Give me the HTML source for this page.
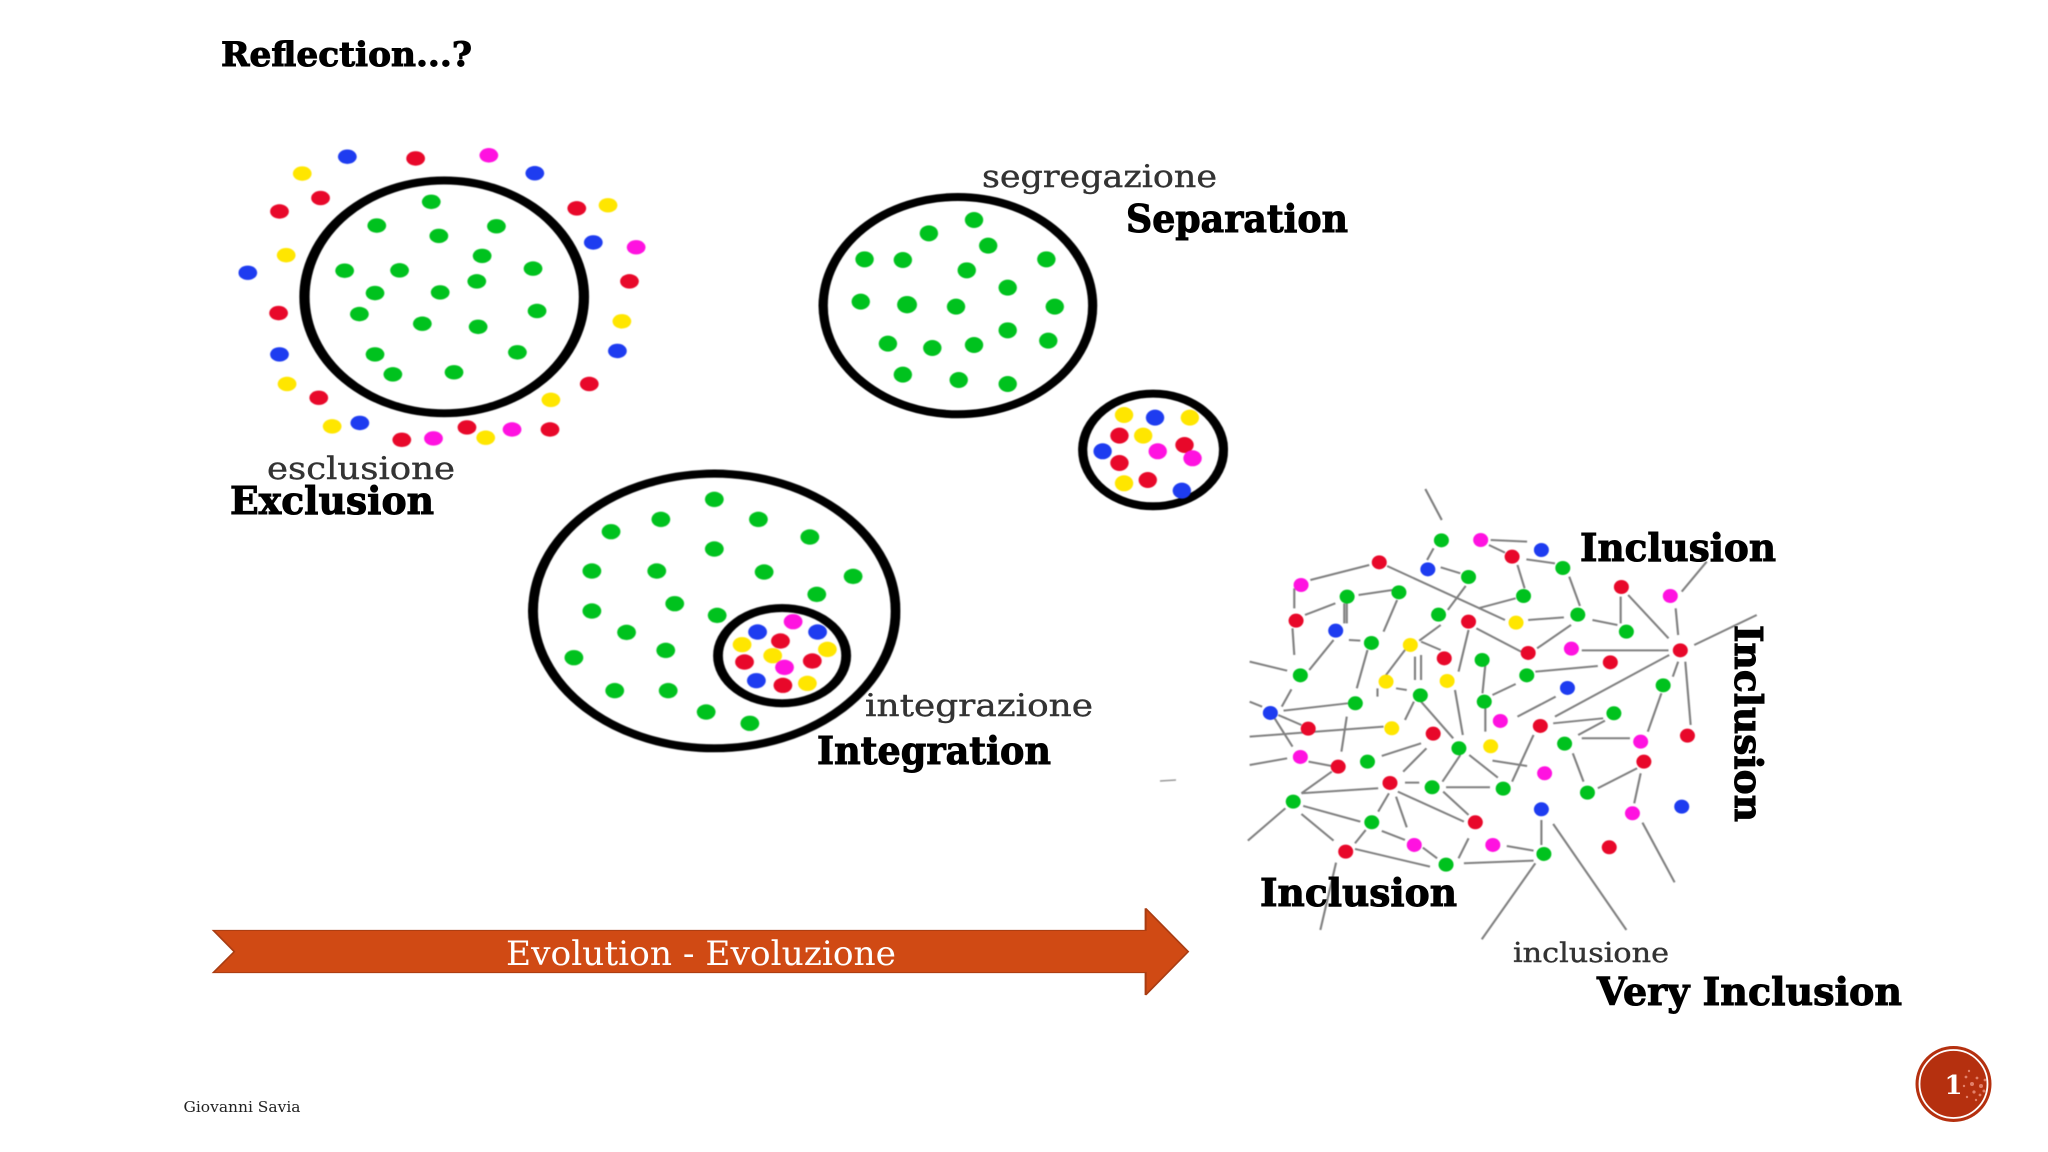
<!DOCTYPE html>
<html>
<head>
<meta charset="utf-8">
<style>
html,body{margin:0;padding:0;background:#fff;width:2048px;height:1152px;overflow:hidden}
svg{display:block}
.g{fill:#00c21e}.r{fill:#e8082a}.b{fill:#1e3cf0}.y{fill:#ffe600}.m{fill:#ff12e0}
.ring{fill:none;stroke:#000}
.soft{filter:blur(.5px)}
.h{font-family:"DejaVu Serif","Liberation Serif",serif;font-weight:700;font-size:38px;fill:#000;stroke:#000;stroke-width:1px}
.s{font-family:"DejaVu Serif","Liberation Serif",serif;font-weight:400;font-size:31px;fill:#333;stroke:#333;stroke-width:.4px}
</style>
</head>
<body>
<svg width="2048" height="1152" viewBox="0 0 2048 1152" xmlns="http://www.w3.org/2000/svg">
<rect width="2048" height="1152" fill="#fff"/>

<g class="soft">
<!-- Exclusion -->
<g transform="translate(200,0) scale(0.4464,0.3444)">
<ellipse class="ring" cx="547" cy="862" rx="313" ry="338" stroke-width="23"/>
<g id="d1">
<circle class="b" cx="330" cy="455" r="21"/><circle class="r" cx="483" cy="460" r="21"/><circle class="m" cx="647" cy="451" r="21"/><circle class="b" cx="750" cy="503" r="21"/><circle class="y" cx="229" cy="504" r="21"/><circle class="r" cx="270" cy="575" r="21"/><circle class="r" cx="178" cy="614" r="21"/><circle class="r" cx="844" cy="605" r="21"/><circle class="y" cx="914" cy="596" r="21"/><circle class="b" cx="881" cy="704" r="21"/><circle class="m" cx="977" cy="718" r="21"/><circle class="y" cx="193" cy="741" r="21"/><circle class="b" cx="107" cy="792" r="21"/><circle class="r" cx="962" cy="817" r="21"/><circle class="r" cx="176" cy="909" r="21"/><circle class="y" cx="945" cy="933" r="21"/><circle class="b" cx="178" cy="1029" r="21"/><circle class="b" cx="935" cy="1019" r="21"/><circle class="y" cx="195" cy="1115" r="21"/><circle class="r" cx="872" cy="1115" r="21"/><circle class="r" cx="266" cy="1155" r="21"/><circle class="y" cx="786" cy="1161" r="21"/><circle class="y" cx="296" cy="1238" r="21"/><circle class="b" cx="358" cy="1228" r="21"/><circle class="r" cx="452" cy="1277" r="21"/><circle class="m" cx="523" cy="1273" r="21"/><circle class="r" cx="598" cy="1241" r="21"/><circle class="y" cx="640" cy="1271" r="21"/><circle class="m" cx="699" cy="1247" r="21"/><circle class="r" cx="784" cy="1247" r="21"/>
<circle class="g" cx="518" cy="586" r="21"/><circle class="g" cx="396" cy="655" r="21"/><circle class="g" cx="664" cy="657" r="21"/><circle class="g" cx="535" cy="685" r="21"/><circle class="g" cx="632" cy="743" r="21"/><circle class="g" cx="324" cy="786" r="21"/><circle class="g" cx="447" cy="785" r="21"/><circle class="g" cx="746" cy="780" r="21"/><circle class="g" cx="620" cy="817" r="21"/><circle class="g" cx="392" cy="851" r="21"/><circle class="g" cx="538" cy="849" r="21"/><circle class="g" cx="755" cy="903" r="21"/><circle class="g" cx="357" cy="912" r="21"/><circle class="g" cx="498" cy="940" r="21"/><circle class="g" cx="623" cy="949" r="21"/><circle class="g" cx="392" cy="1029" r="21"/><circle class="g" cx="711" cy="1023" r="21"/><circle class="g" cx="432" cy="1087" r="21"/><circle class="g" cx="569" cy="1081" r="21"/>
</g>
</g>

<!-- Separation -->
<g transform="translate(780,140) scale(0.3827,0.3333)">
<ellipse class="ring" cx="465" cy="497" rx="352" ry="326" stroke-width="24"/>
<ellipse class="ring" cx="975" cy="930" rx="184" ry="169" stroke-width="24"/>
<circle class="g" cx="507" cy="240" r="24"/><circle class="g" cx="389" cy="280" r="24"/><circle class="g" cx="544" cy="317" r="24"/><circle class="g" cx="221" cy="358" r="24"/><circle class="g" cx="321" cy="360" r="24"/><circle class="g" cx="696" cy="358" r="24"/><circle class="g" cx="488" cy="391" r="24"/><circle class="g" cx="595" cy="443" r="24"/><circle class="g" cx="211" cy="485" r="24"/><circle class="g" cx="332" cy="494" r="26"/><circle class="g" cx="460" cy="500" r="24"/><circle class="g" cx="718" cy="500" r="24"/><circle class="g" cx="595" cy="571" r="24"/><circle class="g" cx="701" cy="602" r="24"/><circle class="g" cx="282" cy="611" r="24"/><circle class="g" cx="398" cy="624" r="24"/><circle class="g" cx="507" cy="615" r="24"/><circle class="g" cx="321" cy="704" r="24"/><circle class="g" cx="467" cy="720" r="24"/><circle class="g" cx="595" cy="732" r="24"/>
<circle class="y" cx="899" cy="825" r="24"/><circle class="b" cx="980" cy="833" r="24"/><circle class="y" cx="1071" cy="833" r="24"/><circle class="r" cx="887" cy="887" r="24"/><circle class="y" cx="949" cy="887" r="24"/><circle class="r" cx="1057" cy="915" r="24"/><circle class="b" cx="843" cy="934" r="24"/><circle class="m" cx="987" cy="934" r="24"/><circle class="m" cx="1078" cy="955" r="24"/><circle class="r" cx="887" cy="969" r="24"/><circle class="y" cx="899" cy="1030" r="24"/><circle class="r" cx="961" cy="1020" r="24"/><circle class="b" cx="1050" cy="1052" r="24"/>
</g>

<!-- Integration -->
<g transform="translate(500,450) scale(0.4082,0.3333)">
<ellipse class="ring" cx="525" cy="483" rx="444" ry="412" stroke-width="24"/>
<ellipse class="ring" cx="691" cy="617" rx="157" ry="143" stroke-width="24"/>
<circle class="g" cx="525" cy="148" r="23"/><circle class="g" cx="394" cy="208" r="23"/><circle class="g" cx="633" cy="208" r="23"/><circle class="g" cx="272" cy="245" r="23"/><circle class="g" cx="759" cy="261" r="23"/><circle class="g" cx="525" cy="297" r="23"/><circle class="g" cx="225" cy="363" r="23"/><circle class="g" cx="384" cy="363" r="23"/><circle class="g" cx="647" cy="366" r="23"/><circle class="g" cx="865" cy="379" r="23"/><circle class="g" cx="776" cy="433" r="23"/><circle class="g" cx="225" cy="483" r="23"/><circle class="g" cx="428" cy="461" r="23"/><circle class="g" cx="532" cy="496" r="23"/><circle class="g" cx="310" cy="547" r="23"/><circle class="g" cx="406" cy="601" r="23"/><circle class="g" cx="181" cy="623" r="23"/><circle class="g" cx="281" cy="722" r="23"/><circle class="g" cx="412" cy="722" r="23"/><circle class="g" cx="505" cy="786" r="23"/><circle class="g" cx="612" cy="820" r="23"/>
<circle class="m" cx="718" cy="515" r="23"/><circle class="b" cx="631" cy="546" r="23"/><circle class="b" cx="778" cy="546" r="23"/><circle class="r" cx="687" cy="573" r="23"/><circle class="y" cx="593" cy="584" r="23"/><circle class="y" cx="802" cy="598" r="23"/><circle class="y" cx="668" cy="617" r="23"/><circle class="r" cx="599" cy="636" r="23"/><circle class="r" cx="765" cy="633" r="23"/><circle class="m" cx="697" cy="652" r="23"/><circle class="b" cx="628" cy="692" r="23"/><circle class="r" cx="693" cy="706" r="23"/><circle class="y" cx="753" cy="700" r="23"/>
</g>

<!-- Inclusion network -->
<g transform="translate(1230,480) scale(0.3571,0.3333)">
<path fill="none" stroke="#808080" stroke-width="6" d="M547 27L593 120M570 205L552 240M730 180L832 185M725 195L770 218M590 262L645 280M660 318L610 390M830 238L910 250M805 255L825 325M950 290L980 378M440 258L770 420M695 385L800 355M390 255L225 300M180 325L180 385M210 405L295 370M360 345L455 330M320 370L320 430M327 370L327 430M468 360L430 455M175 445L180 525M290 480L222 570M333 480L365 482M385 510L355 625M590 435L530 482M535 485L590 510M490 510L430 595M518 530L518 600M535 525L535 600M413 625L413 650M465 625L495 630M668 450L640 575M690 445L815 515M860 505L955 435M835 420L935 412M1015 420L1085 435M1094 350L1094 430M1115 345L1228 475M1248 385L1255 465M1265 335L1335 245M985 511L1228 511M855 575L1030 558M1300 495L1475 405M1230 525L910 710M1255 545L1240 590M1275 545L1290 735M1208 640L1170 755M715 555L707 640M735 645L800 612M805 710L912 650M905 730L1045 715M975 765L1050 722M985 775L1120 775M715 685L715 755M630 630L652 765M535 665L625 775M515 665L490 720M172 628L145 680M55 545L160 572M55 665L90 680M150 692L330 670M135 705L200 735M125 715L175 800M55 770L430 740M327 710L312 815M55 855L160 835M220 845L285 858M425 828L535 790M550 805L485 875M285 875L200 940M200 940L415 925M490 908L530 908M645 825L595 905M670 825L750 893M735 842L832 858M850 765L790 905M605 922L728 922M960 820L990 905M1030 925L1140 865M1150 880L1132 970M155 985L50 1082M205 978L365 1025M200 1002L290 1082M445 940L415 995M465 950L495 1042M470 935L655 1025M597 935L668 1005M380 1050L350 1090M425 1053L490 1080M540 1103L580 1135M668 1075L640 1135M350 1107L560 1160M655 1150L850 1142M775 1098L850 1112M872 1020L872 1095M855 1150L705 1378M905 1032L1110 1350M1155 1028L1245 1207M297 1148L253 1350"/>
<g>
<circle class="g" cx="592" cy="181" r="21"/><circle class="m" cx="702" cy="180" r="21"/><circle class="b" cx="872" cy="210" r="21"/><circle class="r" cx="790" cy="230" r="21"/><circle class="g" cx="932" cy="264" r="21"/><circle class="r" cx="418" cy="247" r="21"/><circle class="b" cx="554" cy="268" r="21"/><circle class="g" cx="668" cy="291" r="21"/><circle class="m" cx="199" cy="315" r="21"/><circle class="g" cx="328" cy="350" r="21"/><circle class="g" cx="473" cy="337" r="21"/><circle class="g" cx="822" cy="348" r="21"/><circle class="r" cx="1096" cy="321" r="21"/><circle class="m" cx="1233" cy="348" r="21"/><circle class="g" cx="584" cy="404" r="21"/><circle class="g" cx="974" cy="404" r="21"/><circle class="r" cx="185" cy="422" r="21"/><circle class="r" cx="668" cy="425" r="21"/><circle class="y" cx="801" cy="428" r="21"/><circle class="b" cx="296" cy="452" r="21"/><circle class="g" cx="1110" cy="455" r="21"/><circle class="g" cx="396" cy="489" r="21"/><circle class="y" cx="505" cy="495" r="21"/><circle class="m" cx="956" cy="506" r="21"/><circle class="r" cx="1261" cy="511" r="21"/><circle class="r" cx="835" cy="519" r="21"/><circle class="r" cx="600" cy="535" r="21"/><circle class="g" cx="706" cy="540" r="21"/><circle class="r" cx="1065" cy="547" r="21"/><circle class="g" cx="197" cy="586" r="21"/><circle class="g" cx="831" cy="586" r="21"/><circle class="y" cx="437" cy="605" r="21"/><circle class="y" cx="608" cy="603" r="21"/><circle class="g" cx="1213" cy="616" r="21"/><circle class="b" cx="945" cy="624" r="21"/><circle class="g" cx="533" cy="646" r="21"/><circle class="g" cx="351" cy="670" r="21"/><circle class="g" cx="712" cy="665" r="21"/><circle class="b" cx="113" cy="699" r="21"/><circle class="g" cx="1075" cy="700" r="21"/><circle class="m" cx="757" cy="723" r="21"/><circle class="r" cx="869" cy="738" r="21"/><circle class="r" cx="219" cy="746" r="21"/><circle class="y" cx="453" cy="745" r="21"/><circle class="r" cx="569" cy="761" r="21"/><circle class="g" cx="937" cy="791" r="21"/><circle class="m" cx="1150" cy="785" r="21"/><circle class="r" cx="1281" cy="767" r="21"/><circle class="y" cx="730" cy="799" r="21"/><circle class="g" cx="641" cy="805" r="21"/><circle class="m" cx="197" cy="831" r="21"/><circle class="r" cx="303" cy="860" r="21"/><circle class="g" cx="385" cy="845" r="21"/><circle class="r" cx="1159" cy="845" r="21"/><circle class="m" cx="881" cy="880" r="21"/><circle class="r" cx="448" cy="909" r="21"/><circle class="g" cx="566" cy="922" r="21"/><circle class="g" cx="765" cy="926" r="21"/><circle class="g" cx="1001" cy="938" r="21"/><circle class="g" cx="177" cy="965" r="21"/><circle class="b" cx="872" cy="988" r="21"/><circle class="m" cx="1127" cy="1000" r="21"/><circle class="b" cx="1265" cy="980" r="21"/><circle class="g" cx="397" cy="1027" r="21"/><circle class="r" cx="687" cy="1027" r="21"/><circle class="m" cx="516" cy="1095" r="21"/><circle class="m" cx="736" cy="1095" r="21"/><circle class="r" cx="324" cy="1115" r="21"/><circle class="g" cx="879" cy="1122" r="21"/><circle class="g" cx="605" cy="1154" r="21"/><circle class="r" cx="1062" cy="1102" r="21"/>
</g>
</g>
<path d="M1160 781L1176 780" stroke="#999" stroke-width="1.5"/>
</g>

<!-- Arrow -->
<g transform="translate(170,890) scale(0.6761,0.3333)">
<polygon points="64,121 1443,121 1443,55 1506,185 1443,315 1443,248 64,248 95,185" fill="#d04a14" stroke="#a83c12" stroke-width="3"/>
</g>

<!-- Labels -->
<g transform="translate(0,-1)">
<text x="506" y="966" font-family="'DejaVu Serif','Liberation Serif',serif" font-size="34" fill="#fff" textLength="390" lengthAdjust="spacingAndGlyphs">Evolution - Evoluzione</text>
<text class="h" x="221" y="67" style="font-size:34px" textLength="251" lengthAdjust="spacingAndGlyphs">Reflection...?</text>
<text class="s" x="267" y="480" textLength="188" lengthAdjust="spacingAndGlyphs">esclusione</text>
<text class="h" x="230" y="515" textLength="204" lengthAdjust="spacingAndGlyphs">Exclusion</text>
<text class="s" x="982" y="188" textLength="235" lengthAdjust="spacingAndGlyphs">segregazione</text>
<text class="h" x="1126" y="233" textLength="222" lengthAdjust="spacingAndGlyphs">Separation</text>
<text class="s" x="865" y="717" textLength="228" lengthAdjust="spacingAndGlyphs">integrazione</text>
<text class="h" x="817" y="765" textLength="234" lengthAdjust="spacingAndGlyphs">Integration</text>
<text class="h" x="1580" y="562" textLength="196" lengthAdjust="spacingAndGlyphs">Inclusion</text>
<text class="h" x="1260" y="907" textLength="197" lengthAdjust="spacingAndGlyphs">Inclusion</text>
<text class="s" x="1513" y="963" style="font-size:27px" textLength="156" lengthAdjust="spacingAndGlyphs">inclusione</text>
<text class="h" x="1597" y="1006" textLength="305" lengthAdjust="spacingAndGlyphs">Very Inclusion</text>
<text x="183.5" y="1113" font-family="'DejaVu Serif','Liberation Serif',serif" font-size="15" fill="#222" textLength="117" lengthAdjust="spacingAndGlyphs">Giovanni Savia</text>
</g>
<text class="h" transform="translate(1735,625) rotate(90)" x="0" y="0" textLength="197" lengthAdjust="spacingAndGlyphs">Inclusion</text>

<!-- Page badge -->
<circle cx="1953.5" cy="1084" r="38" fill="#b5300f"/>
<g fill="#e2806a">
<circle cx="1966" cy="1077" r="1.4"/><circle cx="1972" cy="1084" r="2"/><circle cx="1977" cy="1078" r="1.4"/><circle cx="1981" cy="1086" r="2"/><circle cx="1974" cy="1092" r="1.6"/><circle cx="1969" cy="1071" r="1.2"/><circle cx="1980" cy="1095" r="1.4"/><circle cx="1985" cy="1080" r="1.4"/><circle cx="1967" cy="1097" r="1.2"/><circle cx="1976" cy="1100" r="1.2"/><circle cx="1984" cy="1091" r="1.5"/><circle cx="1964" cy="1086" r="1.2"/>
</g>
<circle cx="1953.5" cy="1084" r="34" fill="none" stroke="#fff" stroke-width="1.8"/>
<text x="1953.5" y="1094" text-anchor="middle" font-family="'DejaVu Serif','Liberation Serif',serif" font-weight="700" font-size="26" fill="#fff">1</text>
</svg>
</body>
</html>
